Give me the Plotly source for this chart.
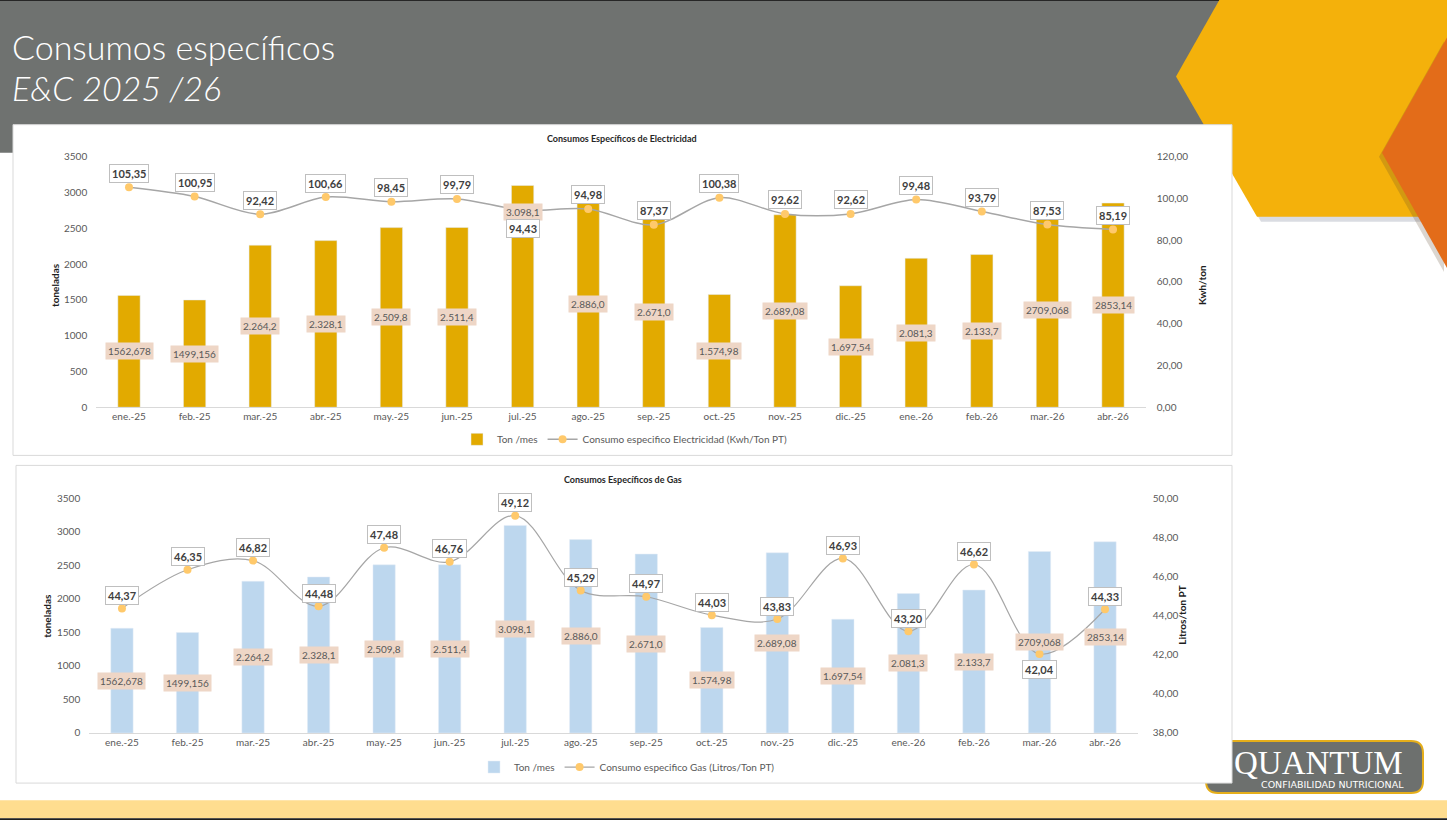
import plotly.graph_objects as go

W, H = 1447, 820

# ---------------- data ----------------
meses = ["ene.-25", "feb.-25", "mar.-25", "abr.-25", "may.-25", "jun.-25", "jul.-25", "ago.-25",
         "sep.-25", "oct.-25", "nov.-25", "dic.-25", "ene.-26", "feb.-26", "mar.-26", "abr.-26"]
ton_mes = [1562.678, 1499.156, 2264.2, 2328.1, 2509.8, 2511.4, 3098.1, 2886.0,
           2671.0, 1574.98, 2689.08, 1697.54, 2081.3, 2133.7, 2709.068, 2853.14]
ton_labels = ["1562,678", "1499,156", "2.264,2", "2.328,1", "2.509,8", "2.511,4", "3.098,1", "2.886,0",
              "2.671,0", "1.574,98", "2.689,08", "1.697,54", "2.081,3", "2.133,7", "2709,068", "2853,14"]
kwh_ton = [105.35, 100.95, 92.42, 100.66, 98.45, 99.79, 94.43, 94.98,
           87.37, 100.38, 92.62, 92.62, 99.48, 93.79, 87.53, 85.19]
gas_lt_ton = [44.37, 46.35, 46.82, 44.48, 47.48, 46.76, 49.12, 45.29,
              44.97, 44.03, 43.83, 46.93, 43.20, 46.62, 42.04, 44.33]

# ---------------- style ----------------
FONT = "Lato"
GRAY_TXT = "#595959"
BAR1 = "#E2AA00"
BAR2 = "#BDD7EE"
LINE = "#A6A6A6"
MARK = "#FFC96B"
LABEL_BG = "#EED6C6"

# vertical calibration of the rendered page
Y_OFF, Y_SCALE = 7.6, 0.982


def px(x):
    return x / W


def py(y):
    return 1 - ((y - Y_OFF) / Y_SCALE) / H


def poly(pts):
    return "M " + " L ".join(f"{px(x):.5f},{py(y):.5f}" for x, y in pts) + " Z"


def note(text, x, y, font, xanchor="center", yanchor="middle", **kw):
    return dict(text=text, x=px(x), y=py(y), xref="paper", yref="paper", showarrow=False,
                xanchor=xanchor, yanchor=yanchor, font=font, **kw)


fig = go.Figure()

# chart 1
fig.add_trace(go.Bar(x=meses, y=ton_mes, name="Ton /mes", marker_color=BAR1,
                     xaxis="x", yaxis="y", legend="legend"))
fig.add_trace(go.Scatter(x=meses, y=kwh_ton, name="Consumo especifico Electricidad (Kwh/Ton PT)",
                         mode="lines+markers", line=dict(color=LINE, width=1.5, shape="spline", smoothing=0.9),
                         marker=dict(color=MARK, size=8), xaxis="x", yaxis="y2", legend="legend"))
# chart 2
fig.add_trace(go.Bar(x=meses, y=ton_mes, name="Ton /mes", marker_color=BAR2,
                     xaxis="x2", yaxis="y3", legend="legend2"))
fig.add_trace(go.Scatter(x=meses, y=gas_lt_ton, name="Consumo especifico Gas (Litros/Ton PT)",
                         mode="lines+markers", line=dict(color=LINE, width=1.2, shape="spline", smoothing=1.0),
                         marker=dict(color=MARK, size=8), xaxis="x2", yaxis="y4", legend="legend2"))

# ---------------- background shapes ----------------
shapes = []


def rect(x0, y0, x1, y1, fill, line=None):
    d = dict(type="rect", xref="paper", yref="paper", x0=px(x0), x1=px(x1), y0=py(y1), y1=py(y0),
             fillcolor=fill, layer="below")
    if line:
        d["line"] = line
    else:
        d["line_width"] = 0
    return d


shapes.append(rect(0, -20, W, 153, "#6F7270"))
shapes.append(rect(0, -20, W, 1.5, "#262626"))
yellow = [(1231, -20), (1447, -20), (1447, 217), (1257, 217), (1176, 77)]
shapes.append(dict(type="path", xref="paper", yref="paper",
                   path=poly([(x + 4, y + 5) for x, y in yellow]),
                   fillcolor="rgba(70,80,110,0.20)", line_width=0, layer="below"))
shapes.append(dict(type="path", xref="paper", yref="paper", path=poly(yellow),
                   fillcolor="#F4B10B", line_width=0, layer="below"))
orange = [(1447, 38), (1447, 268), (1382, 153)]
shapes.append(dict(type="path", xref="paper", yref="paper",
                   path=poly([(x - 3, y + 4) for x, y in orange]),
                   fillcolor="rgba(90,70,40,0.22)", line_width=0, layer="below"))
shapes.append(dict(type="path", xref="paper", yref="paper", path=poly(orange),
                   fillcolor="#E36C19", line_width=0, layer="below"))
shapes.append(rect(0, 799, W, 817, "#FFDD8F"))
shapes.append(rect(0, 817, W, 840, "#1E1E1E"))
# logo rounded rectangle
lx0, lx1, ly0, ly1, r = 1206, 1423, 740, 792, 12
logo_path = (f"M {px(lx0 + r)},{py(ly0)} L {px(lx1 - r)},{py(ly0)} Q {px(lx1)},{py(ly0)} {px(lx1)},{py(ly0 + r)} "
             f"L {px(lx1)},{py(ly1 - r)} Q {px(lx1)},{py(ly1)} {px(lx1 - r)},{py(ly1)} "
             f"L {px(lx0 + r)},{py(ly1)} Q {px(lx0)},{py(ly1)} {px(lx0)},{py(ly1 - r)} "
             f"L {px(lx0)},{py(ly0 + r)} Q {px(lx0)},{py(ly0)} {px(lx0 + r)},{py(ly0)} Z")
shapes.append(dict(type="path", xref="paper", yref="paper", path=logo_path,
                   fillcolor="#6D706E", line=dict(color="#E5AE1A", width=2), layer="below"))
# chart boxes
shapes.append(rect(13, 125, 1232, 455, "white", dict(color="#D9D9D9", width=1)))
shapes.append(rect(16, 465, 1232, 782, "white", dict(color="#D9D9D9", width=1)))

# ---------------- annotations ----------------
ann = []
ann.append(note("Consumos específicos", 10, 47, dict(family=FONT, size=34, color="white", weight=300),
                xanchor="left"))
ann.append(note("E&C 2025 /26", 10, 88, dict(family=FONT, size=34, color="white", weight=300, style="italic"),
                xanchor="left"))

title_font = dict(family=FONT, size=9, color="#262626", weight="bold")
ann.append(note("Consumos Específicos de Electricidad", 622, 139, title_font))
ann.append(note("Consumos Específicos de Gas", 623, 479, title_font))

axis_title_font = dict(family=FONT, size=10, color="#1F1F1F", weight="bold")
for txt, x, y in [("toneladas", 55, 285), ("Kwh/ton", 1202, 285), ("toneladas", 47, 615),
                  ("Litros/ton PT", 1182, 615)]:
    ann.append(note(txt, x, y, axis_title_font, textangle=-90))

# bar value labels (centred in bars; one moved up in chart 1 as in the source)
bar_shift_1 = {6: 84}
for i, (m, v, t) in enumerate(zip(meses, ton_mes, ton_labels)):
    for xr, yr, shift in (("x", "y", bar_shift_1.get(i, 0)), ("x2", "y3", 0)):
        ann.append(dict(text=t, x=m, y=v / 2, xref=xr, yref=yr, yshift=shift, showarrow=False,
                        xanchor="center", yanchor="middle", bgcolor=LABEL_BG, borderpad=2,
                        font=dict(family=FONT, size=10, color=GRAY_TXT)))

# line value labels
below_1 = {6: -18}
below_2 = {14: -15}
val_font = dict(family=FONT, size=11, color="#404040", weight="bold")
for i, (m, v) in enumerate(zip(meses, kwh_ton)):
    ann.append(dict(text=f"{v:.2f}".replace(".", ","), x=m, y=v, xref="x", yref="y2",
                    xanchor="center", yanchor="middle",
                    yshift=below_1.get(i, 14), showarrow=False, bgcolor="white",
                    bordercolor="#BFBFBF", borderwidth=1, borderpad=2, font=val_font))
for i, (m, v) in enumerate(zip(meses, gas_lt_ton)):
    ann.append(dict(text=f"{v:.2f}".replace(".", ","), x=m, y=v, xref="x2", yref="y4",
                    xanchor="center", yanchor="middle",
                    yshift=below_2.get(i, 13), showarrow=False, bgcolor="white",
                    bordercolor="#BFBFBF", borderwidth=1, borderpad=2, font=val_font))

# logo text
ann.append(note("QUANTUM", 1318, 762, dict(family="Liberation Serif", size=33, color="white")))
ann.append(note("CONFIABILIDAD NUTRICIONAL", 1406, 783,
                dict(family="DejaVu Sans", size=9.5, color="white"), xanchor="right"))

# ---------------- axes ----------------
tick_font = dict(family=FONT, size=10, color=GRAY_TXT)
xcommon = dict(type="category", range=[-0.5, 15.5], showline=True, linecolor="#D9D9D9", linewidth=1,
               ticks="", showgrid=False, zeroline=False, tickfont=tick_font)
ycommon = dict(showgrid=False, zeroline=False, showline=False, ticks="", tickfont=tick_font)

fig.update_layout(
    width=W, height=H, autosize=False,
    margin=dict(l=0, r=0, t=0, b=0, pad=0),
    paper_bgcolor="white", plot_bgcolor="rgba(0,0,0,0)",
    separators=",.",
    bargap=0.66,
    shapes=shapes, annotations=ann,
    xaxis=dict(domain=[px(96.2), px(1145.8)], anchor="y", **xcommon),
    yaxis=dict(domain=[py(407), py(157)], anchor="x", range=[0, 3500], dtick=500, tickformat="d",
               ticklabelstandoff=8, **ycommon),
    yaxis2=dict(overlaying="y", side="right", anchor="x", range=[0, 120], dtick=20, tickformat=".2f",
                ticklabelstandoff=10, **ycommon),
    xaxis2=dict(domain=[px(89.2), px(1137.8)], anchor="y3", **xcommon),
    yaxis3=dict(domain=[py(732), py(498)], anchor="x2", range=[0, 3500], dtick=500, tickformat="d",
                ticklabelstandoff=8, **ycommon),
    yaxis4=dict(overlaying="y3", side="right", anchor="x2", range=[38, 50], dtick=2, tickformat=".2f",
                ticklabelstandoff=14, **ycommon),
    legend=dict(orientation="h", x=px(625), xanchor="center", y=py(439), yanchor="middle",
                font=dict(family=FONT, size=10, color=GRAY_TXT), bgcolor="rgba(0,0,0,0)",
                itemwidth=30),
    legend2=dict(orientation="h", x=px(627), xanchor="center", y=py(766), yanchor="middle",
                 font=dict(family=FONT, size=10, color=GRAY_TXT), bgcolor="rgba(0,0,0,0)",
                 itemwidth=30),
    showlegend=True,
)

fig.write_html("out.html",
               post_script="document.body.style.margin='0px';document.body.style.overflow='hidden';")
